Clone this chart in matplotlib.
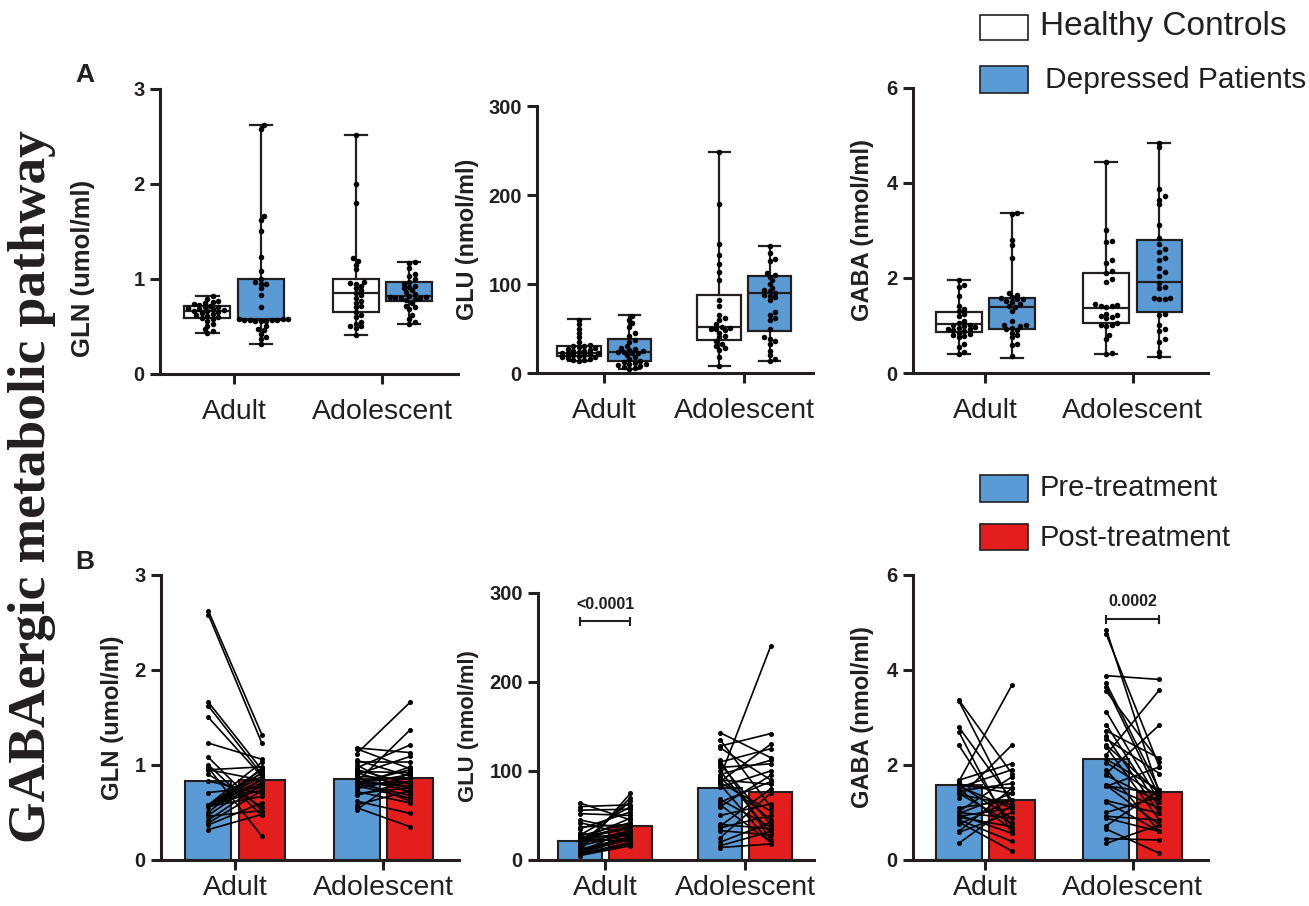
import numpy as np
import matplotlib
matplotlib.use('Agg')
import matplotlib.pyplot as plt
from matplotlib.patches import Rectangle

plt.rcParams['font.family'] = ['Liberation Sans', 'DejaVu Sans']

groups = ['Adult', 'Adolescent']

# ---- GLN (umol/ml)
gln_hc_adult = [0.82, 0.79, 0.77, 0.76, 0.75, 0.74, 0.73, 0.72, 0.71, 0.70, 0.69, 0.68, 0.68, 0.67, 0.66,
                0.66, 0.65, 0.64, 0.63, 0.62, 0.61, 0.60, 0.59, 0.58, 0.56, 0.53, 0.51, 0.47, 0.45, 0.43]
gln_hc_adol = [2.52, 2.00, 1.80, 1.22, 1.19, 1.15, 1.10, 0.97, 0.96, 0.95, 0.93, 0.90, 0.88, 0.85, 0.83,
               0.80, 0.77, 0.75, 0.72, 0.70, 0.65, 0.62, 0.60, 0.55, 0.53, 0.51, 0.50, 0.48, 0.41]
gln_dp_adult = [2.62, 2.58, 1.66, 1.62, 1.50, 1.23, 1.08, 1.00, 0.97, 0.95, 0.95, 0.90, 0.83, 0.71,
                0.58, 0.58, 0.58, 0.57, 0.57, 0.57, 0.57, 0.56, 0.56, 0.56, 0.50, 0.47, 0.46, 0.42, 0.39, 0.37, 0.32]
gln_dp_adol = [1.18, 1.17, 1.12, 1.05, 1.03, 1.00, 0.97, 0.95, 0.93, 0.92, 0.90, 0.88, 0.86, 0.84, 0.82,
               0.81, 0.81, 0.80, 0.80, 0.80, 0.79, 0.78, 0.75, 0.72, 0.70, 0.68, 0.62, 0.58, 0.55, 0.53]
gln_post_adult = [1.32, 1.23, 0.95, 0.90, 0.88, 1.06, 0.52, 0.47, 0.25, 0.84, 0.98, 0.56, 0.70, 0.77,
                  1.03, 0.95, 0.91, 0.88, 0.84, 0.81, 0.77, 0.74, 0.92, 0.67, 0.97, 0.86, 0.52, 0.80, 0.73, 0.60, 0.48]
gln_post_adol = [1.13, 0.96, 1.66, 0.88, 1.03, 0.70, 1.21, 0.80, 0.92, 0.75, 1.09, 0.85, 0.72, 0.62, 1.37,
                 0.95, 0.78, 0.82, 0.68, 0.90, 0.98, 0.65, 0.87, 0.60, 0.76, 0.83, 0.49, 0.73, 0.35, 0.93]
# box stats: min, q1, median, q3, max
gln_hc_box = [[0.43, 0.59, 0.66, 0.72, 0.82], [0.41, 0.65, 0.85, 1.00, 2.52]]
gln_dp_box = [[0.32, 0.565, 0.58, 1.00, 2.62], [0.53, 0.77, 0.82, 0.97, 1.18]]
gln_bars = [[0.83, 0.84], [0.85, 0.86]]

# ---- GLU (nmol/ml)
glu_hc_adult = [60, 55, 50, 45, 40, 35, 32, 30, 30, 29, 28, 27, 26, 25, 25, 24, 23, 22, 22, 21,
                20, 20, 19, 18, 18, 17, 16, 15, 15, 14]
glu_hc_adol = [248, 190, 145, 133, 122, 113, 104, 82, 75, 65, 62, 60, 55, 52, 51, 50, 49, 48, 45, 42,
               40, 36, 33, 30, 28, 26, 18, 8]
glu_dp_adult = [64, 60, 56, 52, 45, 42, 37, 35, 30, 28, 27, 26, 25, 24, 24, 23, 22, 20, 18, 16,
                14, 12, 11, 10, 10, 9, 8, 7, 6, 5]
glu_dp_adol = [143, 135, 128, 126, 112, 110, 108, 104, 100, 96, 93, 92, 90, 88, 87, 85, 82, 68, 65, 62,
               60, 50, 40, 38, 36, 33, 25, 20, 16, 14]
glu_post_adult = [45, 62, 57, 50, 33, 28, 40, 54, 22, 60, 42, 27, 38, 36, 21, 47, 32, 30, 66, 29,
                  70, 26, 25, 75, 23, 35, 24, 20, 18, 16]
glu_post_adol = [115, 60, 142, 90, 22, 125, 40, 108, 30, 112, 240, 45, 85, 130, 55, 19, 100, 37, 88, 20,
                 95, 63, 35, 80, 50, 28, 75, 42, 32, 18]
glu_hc_box = [[13.5, 19, 23, 30, 61], [8, 37, 52, 88, 248]]
glu_dp_box = [[5, 13, 24, 38, 65], [14, 47, 90, 109, 143]]
glu_bars = [[21, 38], [81, 76]]

# ---- GABA (nmol/ml)
gaba_hc_adult = [1.95, 1.85, 1.82, 1.62, 1.42, 1.35, 1.30, 1.25, 1.20, 1.10, 1.05, 1.02, 1.00, 0.98, 0.97,
                 0.95, 0.93, 0.92, 0.90, 0.88, 0.85, 0.82, 0.80, 0.78, 0.75, 0.60, 0.55, 0.45, 0.40]
gaba_hc_adol = [4.45, 3.02, 2.78, 2.75, 2.38, 2.32, 2.15, 2.10, 1.97, 1.92, 1.45, 1.44, 1.42, 1.40, 1.38,
                1.25, 1.22, 1.20, 1.18, 1.15, 1.05, 1.02, 1.00, 0.98, 0.80, 0.72, 0.42, 0.40]
gaba_dp_adult = [3.37, 3.35, 2.80, 2.70, 2.42, 1.68, 1.65, 1.60, 1.58, 1.56, 1.55, 1.52, 1.50, 1.45, 1.40,
                 1.38, 1.30, 1.10, 1.02, 1.00, 0.98, 0.95, 0.92, 0.90, 0.85, 0.80, 0.75, 0.60, 0.58, 0.35]
gaba_dp_adol = [4.85, 4.75, 3.88, 3.72, 3.65, 3.55, 3.12, 2.85, 2.72, 2.60, 2.55, 2.42, 2.38, 2.22, 2.12,
                2.05, 1.90, 1.82, 1.78, 1.58, 1.57, 1.56, 1.55, 1.25, 1.22, 1.00, 0.92, 0.88, 0.72, 0.65, 0.45, 0.35]
gaba_post_adult = [1.82, 1.16, 1.26, 0.56, 0.70, 2.03, 3.68, 1.40, 0.88, 1.51, 1.09, 1.90, 0.63, 1.61, 0.77,
                   1.16, 2.42, 1.26, 1.75, 0.88, 1.40, 0.56, 1.09, 0.70, 0.39, 0.19, 1.26, 1.51, 1.00, 1.16]
gaba_post_adol = [1.40, 1.96, 3.80, 1.47, 1.33, 2.07, 1.23, 1.09, 2.14, 0.98, 1.82, 1.40, 0.84, 3.58, 1.47,
                  1.33, 0.60, 2.84, 1.23, 1.09, 0.74, 1.40, 1.96, 0.98, 0.60, 1.33, 0.84, 0.60, 1.47, 0.14, 0.42, 0.74]
gaba_hc_box = [[0.39, 0.86, 1.03, 1.28, 1.95], [0.41, 1.06, 1.36, 2.11, 4.45]]
gaba_dp_box = [[0.32, 0.93, 1.38, 1.57, 3.37], [0.34, 1.28, 1.91, 2.79, 4.85]]
gaba_bars = [[1.57, 1.27], [2.13, 1.43]]

# significance labels (group index, text, bracket height)
glu_sig = (0, '<0.0001', 268)
gaba_sig = (1, '0.0002', 5.07)

ink = '#231f20'
blue = '#5b9bd5'
red = '#e31e1c'
W, H = 1309, 906

fig = plt.figure(figsize=(W / 100, H / 100), dpi=100)

rects_top = [[0.1222, 0.5872, 0.2277, 0.3146], [0.4102, 0.5883, 0.2109, 0.2947], [0.6975, 0.5883, 0.2254, 0.3146]]
rects_bot = [[0.1230, 0.0508, 0.2277, 0.3146], [0.4110, 0.0508, 0.2109, 0.2947], [0.6975, 0.0508, 0.2254, 0.3146]]
xlims = [(-0.50, 1.51), (-0.48, 1.49), (-0.49, 1.51)]
ylims = [3, 300, 6]
yticks = [[0, 1, 2, 3], [0, 100, 200, 300], [0, 2, 4, 6]]
ylabels = ['GLN (umol/ml)', 'GLU (nmol/ml)', 'GABA (nmol/ml)']
# label x (axes fraction), label y (axes fraction), font size
ylab_top = [(-0.258, 0.37, 18.5), (-0.25, 0.5, 16.8), (-0.17, 0.5, 17)]
ylab_bot = [(-0.164, 0.5, 17.2), (-0.25, 0.5, 15.8), (-0.17, 0.5, 17)]
off, bw = 0.18, 0.31


def style(ax, i, lab, xpad):
    ax.set_xlim(*xlims[i])
    ax.set_ylim(0, ylims[i])
    ax.set_yticks(yticks[i])
    ax.set_xticks([0, 1])
    ax.set_xticklabels(groups, fontsize=20.5, color=ink)
    for t in ax.get_yticklabels():
        t.set_fontweight('bold')
        t.set_fontsize(14.5)
        t.set_color(ink)
    for s in ['top', 'right']:
        ax.spines[s].set_visible(False)
    for s in ['left', 'bottom']:
        ax.spines[s].set_linewidth(2.2)
        ax.spines[s].set_color(ink)
    ax.tick_params(width=2.2, length=7, color=ink, pad=4)
    ax.tick_params(axis='x', pad=xpad)
    ax.set_ylabel(ylabels[i], fontsize=lab[2], fontweight='bold', color=ink, va='center')
    ax.yaxis.set_label_coords(lab[0], lab[1])


def swarm(vals, ypx, xpx, d=5.5):
    # simple beeswarm: x offsets (data units) so dots of diameter d px barely touch
    vals = np.asarray(vals, float)
    order = np.argsort(vals)
    placed = []
    offs = np.zeros(len(vals))
    for i in order:
        y = vals[i] * ypx
        k = 0
        while True:
            cand = [0.0] if k == 0 else [k * d * 0.5, -k * d * 0.5]
            ok = None
            for c in cand:
                if all((c - px) ** 2 + (y - py) ** 2 >= (d * 0.8) ** 2 for px, py in placed):
                    ok = c
                    break
            if ok is not None:
                placed.append((ok, y))
                offs[i] = ok / xpx
                break
            k += 1
    return offs


top_data = [
    (gln_hc_adult, gln_dp_adult, gln_hc_adol, gln_dp_adol, gln_hc_box, gln_dp_box),
    (glu_hc_adult, glu_dp_adult, glu_hc_adol, glu_dp_adol, glu_hc_box, glu_dp_box),
    (gaba_hc_adult, gaba_dp_adult, gaba_hc_adol, gaba_dp_adol, gaba_hc_box, gaba_dp_box),
]

for i, (hc_a, dp_a, hc_b, dp_b, hc_box, dp_box) in enumerate(top_data):
    ax = fig.add_axes(rects_top[i])
    r = rects_top[i]
    ypx = r[3] * H / ylims[i]
    xpx = r[2] * W / (xlims[i][1] - xlims[i][0])
    stats = []
    for g in range(2):
        for box in (hc_box[g], dp_box[g]):
            stats.append(dict(whislo=box[0], q1=box[1], med=box[2], q3=box[3], whishi=box[4], fliers=[]))
    pos = [-off, off, 1 - off, 1 + off]
    bp = ax.bxp(stats, positions=pos, widths=bw, patch_artist=True, showfliers=False,
                capwidths=0.15, manage_ticks=False,
                boxprops=dict(linewidth=1.6, edgecolor=ink),
                whiskerprops=dict(linewidth=1.6, color=ink),
                capprops=dict(linewidth=1.6, color=ink),
                medianprops=dict(linewidth=1.6, color=ink))
    for j, patch in enumerate(bp['boxes']):
        patch.set_facecolor('white' if j % 2 == 0 else blue)
    for p, vals in zip(pos, [hc_a, dp_a, hc_b, dp_b]):
        xo = swarm(vals, ypx, xpx)
        ax.scatter(p + xo, vals, s=16, color='black', zorder=5, linewidths=0, clip_on=False)
    style(ax, i, ylab_top[i], 11)

bot_data = [
    (gln_dp_adult, gln_post_adult, gln_dp_adol, gln_post_adol, gln_bars, None),
    (glu_dp_adult, glu_post_adult, glu_dp_adol, glu_post_adol, glu_bars, glu_sig),
    (gaba_dp_adult, gaba_post_adult, gaba_dp_adol, gaba_post_adol, gaba_bars, gaba_sig),
]

for i, (pre_a, post_a, pre_b, post_b, bars, sig) in enumerate(bot_data):
    ax = fig.add_axes(rects_bot[i])
    ax.bar([-off, 1 - off], [bars[0][0], bars[1][0]], width=bw, color=blue, edgecolor=ink, linewidth=1.5, zorder=2)
    ax.bar([off, 1 + off], [bars[0][1], bars[1][1]], width=bw, color=red, edgecolor=ink, linewidth=1.5, zorder=2)
    for g, (pre, post) in enumerate([(pre_a, post_a), (pre_b, post_b)]):
        for a, b in zip(pre, post):
            ax.plot([g - off, g + off], [a, b], color='black', lw=1.2, marker='o', ms=2.6,
                    zorder=4, clip_on=False)
    if sig is not None:
        g, txt, yb = sig
        cap = ylims[i] * 0.012
        ax.plot([g - off, g + off], [yb, yb], color=ink, lw=1.5, zorder=5)
        ax.plot([g - off, g - off], [yb - cap, yb + cap], color=ink, lw=1.5, zorder=5)
        ax.plot([g + off, g + off], [yb - cap, yb + cap], color=ink, lw=1.5, zorder=5)
        ax.text(g, yb + ylims[i] * 0.035, txt, ha='center', va='bottom', fontsize=11.5,
                fontweight='bold', color=ink)
    style(ax, i, ylab_bot[i], 4)

# panel letters
fig.text(85 / W, 1 - 75 / H, 'A', fontsize=19, fontweight='bold', color=ink, ha='center', va='center')
fig.text(85 / W, 1 - 562 / H, 'B', fontsize=19, fontweight='bold', color=ink, ha='center', va='center')

# vertical title
fig.text(32 / W, 1 - 487 / H, 'GABAergic metabolic pathway', rotation=90, fontsize=38.5,
         fontweight='bold', family='Liberation Serif', color=ink, ha='center', va='center')

# legends: box bottom, box height, colour, text, text x, text y, font size
leg = [
    (1 - 40 / H, 25 / H, 'white', 'Healthy Controls', 1040, 1 - 27 / H, 24),
    (1 - 93 / H, 27 / H, blue, 'Depressed Patients', 1045, 1 - 80 / H, 21.5),
    (1 - 502 / H, 27 / H, blue, 'Pre-treatment', 1040, 1 - 488 / H, 21),
    (1 - 550 / H, 26 / H, red, 'Post-treatment', 1040, 1 - 538 / H, 21),
]
for yb, hh, col, txt, tx, ty, fs in leg:
    fig.patches.append(Rectangle((980 / W, yb), 48 / W, hh, transform=fig.transFigure,
                                 facecolor=col, edgecolor=ink, linewidth=1.2))
    fig.text(tx / W, ty, txt, fontsize=fs, color=ink, ha='left', va='center')

fig.savefig('out.png', dpi=100)
